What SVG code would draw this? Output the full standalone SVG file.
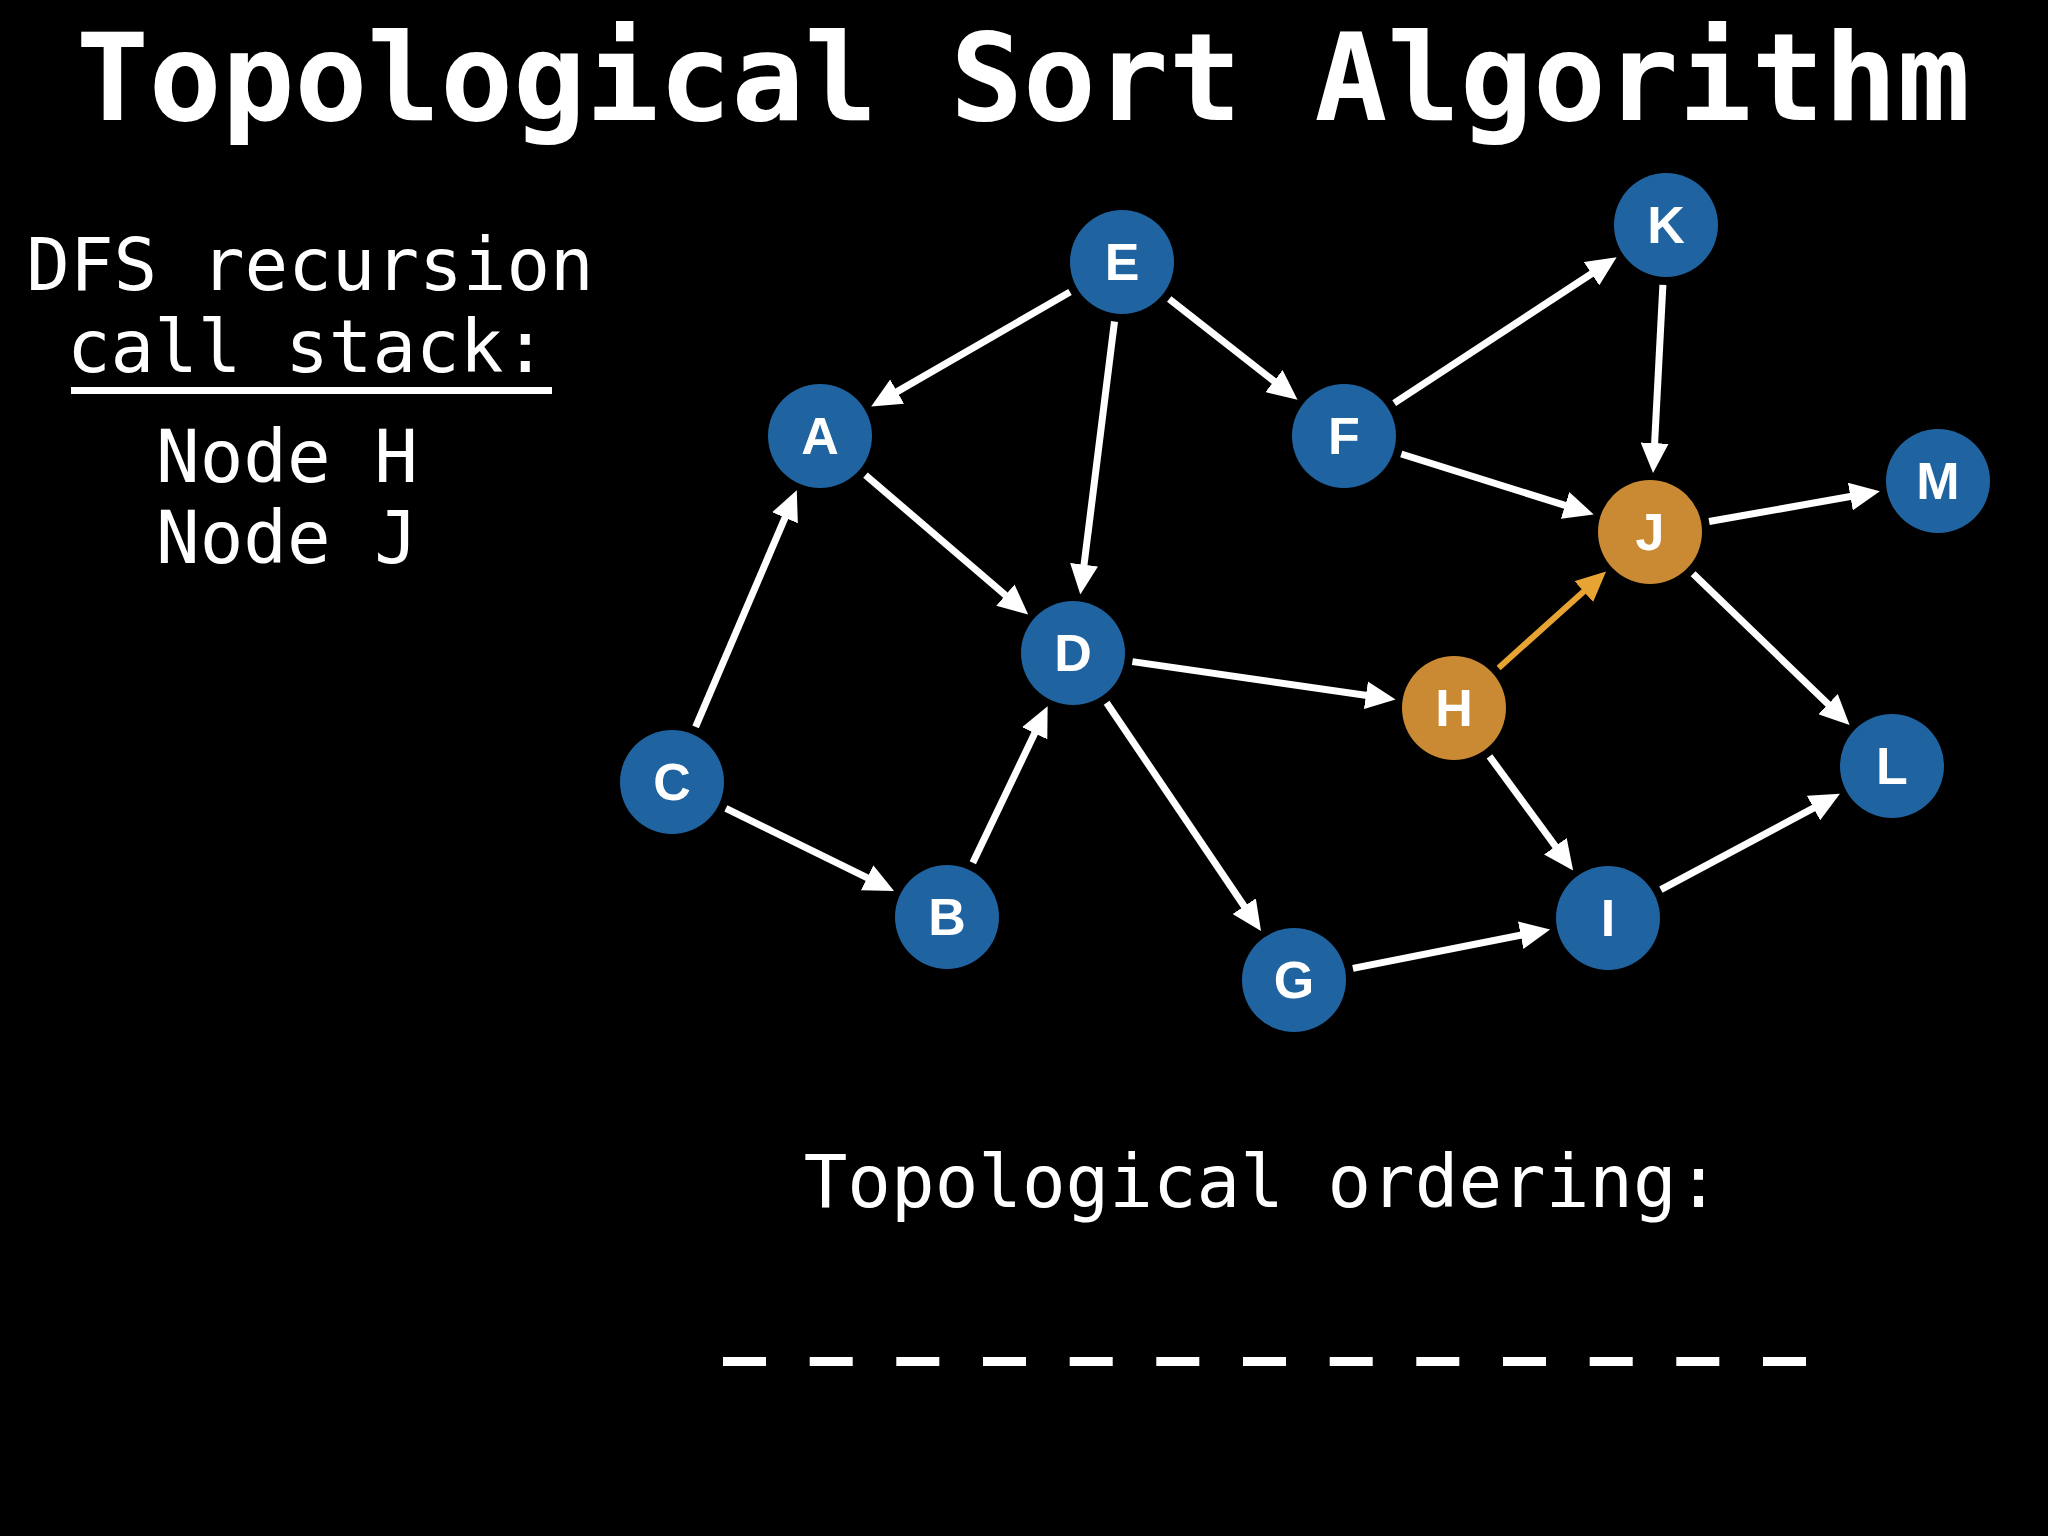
<svg xmlns="http://www.w3.org/2000/svg" width="2048" height="1536" viewBox="0 0 2048 1536">
<defs>
<style>
.mono{font-family:"DejaVu Sans Mono","Liberation Mono",monospace;fill:#fff}
.node circle{fill:#1f64a0}
.node.hl circle{fill:#c98a33}
.node text{font-family:"Liberation Sans",Arial,sans-serif;font-weight:bold;font-size:52px;fill:#fff;text-anchor:middle}
.edge{stroke:#fff;stroke-width:7;fill:none;marker-end:url(#ah)}
.edge.hl{stroke:#e8a433;stroke-width:6;marker-end:url(#ahO)}
.dash{fill:#fff}
</style>
<marker id="ah" markerUnits="userSpaceOnUse" markerWidth="30" markerHeight="28" refX="10" refY="14" orient="auto" viewBox="0 0 30 28">
<path d="M0,0 L30,14 L0,28 z" fill="#fff"/>
</marker>
<marker id="ahO" markerUnits="userSpaceOnUse" markerWidth="30" markerHeight="28" refX="10" refY="14" orient="auto" viewBox="0 0 30 28">
<path d="M0,0 L30,14 L0,28 z" fill="#e8a433"/>
</marker>
</defs>
<rect width="2048" height="1536" fill="#000"/>
<text class="mono" x="1023" y="120" font-size="121" font-weight="bold" text-anchor="middle">Topological Sort Algorithm</text>
<text class="mono" x="310" y="290" font-size="72.5" text-anchor="middle">DFS recursion</text>
<text class="mono" x="307" y="372" font-size="72.5" text-anchor="middle">call stack:</text>
<rect x="71" y="387" width="481" height="7" fill="#fff"/>
<text class="mono" x="156" y="482" font-size="72.5">Node H</text>
<text class="mono" x="156" y="563" font-size="72.5">Node J</text>
<text class="mono" x="1262" y="1207" font-size="72.5" text-anchor="middle">Topological ordering:</text>
<g id="blanks">
<rect class="dash" x="723" y="1357" width="43" height="9"/>
<rect class="dash" x="809.7" y="1357" width="43" height="9"/>
<rect class="dash" x="896.3" y="1357" width="43" height="9"/>
<rect class="dash" x="983" y="1357" width="43" height="9"/>
<rect class="dash" x="1069.7" y="1357" width="43" height="9"/>
<rect class="dash" x="1156.3" y="1357" width="43" height="9"/>
<rect class="dash" x="1243" y="1357" width="43" height="9"/>
<rect class="dash" x="1329.7" y="1357" width="43" height="9"/>
<rect class="dash" x="1416.3" y="1357" width="43" height="9"/>
<rect class="dash" x="1503" y="1357" width="43" height="9"/>
<rect class="dash" x="1589.7" y="1357" width="43" height="9"/>
<rect class="dash" x="1676.3" y="1357" width="43" height="9"/>
<rect class="dash" x="1763" y="1357" width="43" height="9"/>
</g>
<g id="connectors">
<path class="edge" d="M1070.0,292.0 L888.5,396.6"/>
<path class="edge" d="M1114.5,321.5 L1082.8,574.6"/>
<path class="edge" d="M1169.2,299.0 L1281.8,387.3"/>
<path class="edge" d="M865.5,475.1 L1013.0,601.6"/>
<path class="edge" d="M695.6,726.8 L788.9,508.6"/>
<path class="edge" d="M725.9,808.4 L876.1,882.2"/>
<path class="edge" d="M972.8,862.8 L1039.0,724.3"/>
<path class="edge" d="M1132.4,661.6 L1375.8,696.7"/>
<path class="edge" d="M1106.6,702.7 L1249.8,914.5"/>
<path class="edge" d="M1394.2,403.1 L1599.9,268.3"/>
<path class="edge" d="M1401.3,454.0 L1574.6,508.4"/>
<path class="edge" d="M1662.9,284.9 L1654.1,453.1"/>
<path class="edge" d="M1709.1,521.5 L1860.2,494.8"/>
<path class="edge" d="M1693.1,573.7 L1835.2,711.1"/>
<path class="edge hl" d="M1498.6,667.9 L1591.2,584.8"/>
<path class="edge" d="M1489.5,756.4 L1561.3,854.3"/>
<path class="edge" d="M1352.9,968.4 L1530.5,933.3"/>
<path class="edge" d="M1660.9,889.7 L1822.3,803.3"/>
</g>
<g id="node-E" class="node"><circle cx="1122" cy="262" r="52"/><text x="1122" y="280">E</text></g>
<g id="node-K" class="node"><circle cx="1666" cy="225" r="52"/><text x="1666" y="243">K</text></g>
<g id="node-A" class="node"><circle cx="820" cy="436" r="52"/><text x="820" y="454">A</text></g>
<g id="node-F" class="node"><circle cx="1344" cy="436" r="52"/><text x="1344" y="454">F</text></g>
<g id="node-M" class="node"><circle cx="1938" cy="481" r="52"/><text x="1938" y="499">M</text></g>
<g id="node-J" class="node hl"><circle cx="1650" cy="532" r="52"/><text x="1650" y="550">J</text></g>
<g id="node-D" class="node"><circle cx="1073" cy="653" r="52"/><text x="1073" y="671">D</text></g>
<g id="node-H" class="node hl"><circle cx="1454" cy="708" r="52"/><text x="1454" y="726">H</text></g>
<g id="node-C" class="node"><circle cx="672" cy="782" r="52"/><text x="672" y="800">C</text></g>
<g id="node-L" class="node"><circle cx="1892" cy="766" r="52"/><text x="1892" y="784">L</text></g>
<g id="node-B" class="node"><circle cx="947" cy="917" r="52"/><text x="947" y="935">B</text></g>
<g id="node-I" class="node"><circle cx="1608" cy="918" r="52"/><text x="1608" y="936">I</text></g>
<g id="node-G" class="node"><circle cx="1294" cy="980" r="52"/><text x="1294" y="998">G</text></g>
</svg>
